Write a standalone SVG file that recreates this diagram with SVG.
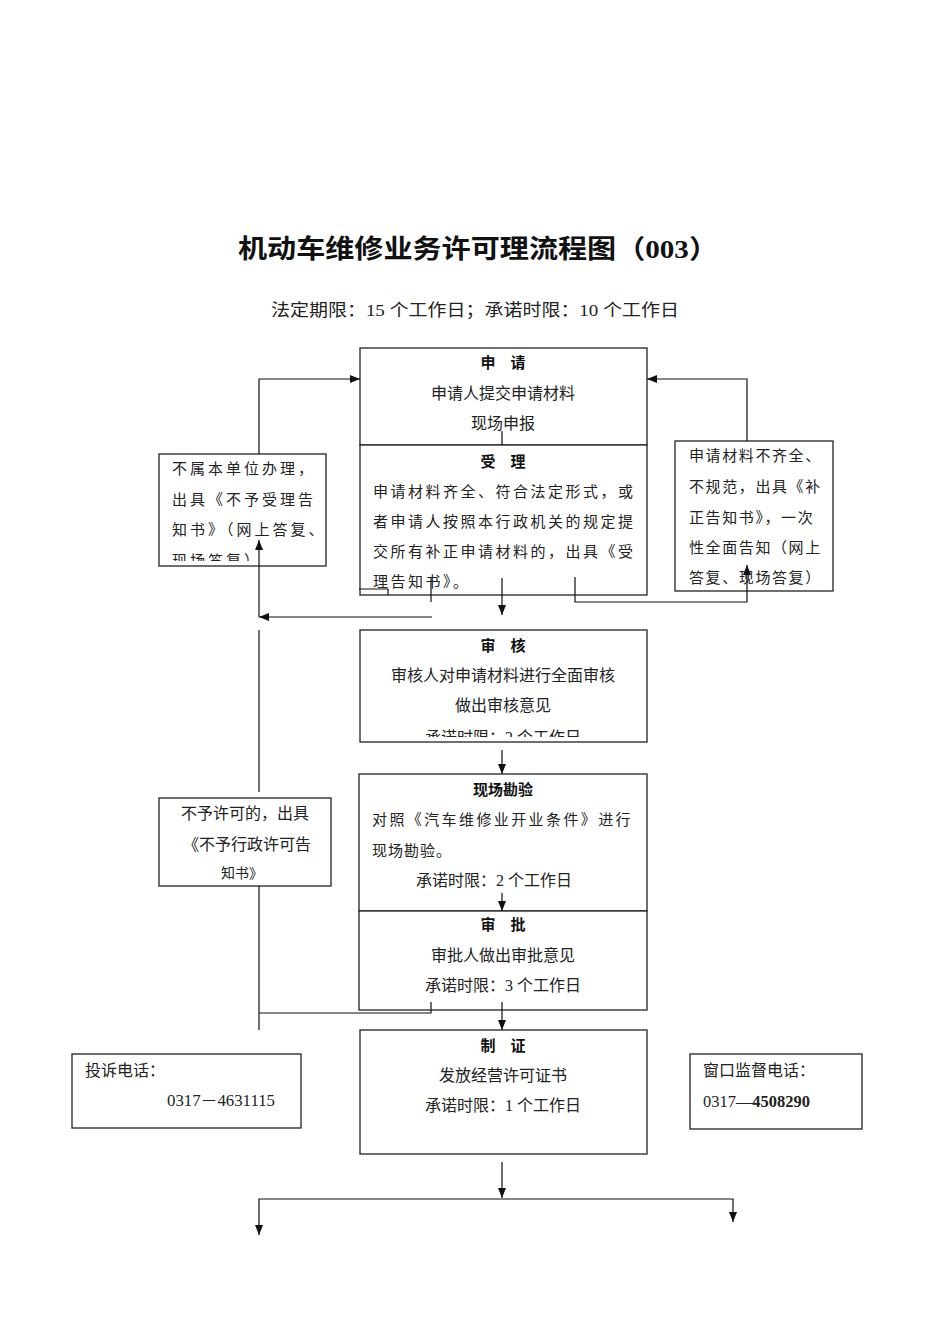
<svg xmlns="http://www.w3.org/2000/svg" width="950" height="1344" viewBox="0 0 950 1344">
<style>
.box{fill:#fff;stroke:#222;stroke-width:1.3}
.ln{fill:none;stroke:#111;stroke-width:1.2}
.t{font-family:"Liberation Serif","Noto Sans CJK SC",serif;font-size:16px;fill:#222}
.c{text-anchor:middle}
.b{font-family:"Noto Sans CJK SC",sans-serif;font-weight:bold;font-size:15px;fill:#111;text-anchor:middle}
.ls{font-size:15px;letter-spacing:2.5px}
.rs{font-size:15px;letter-spacing:1.6px}
</style>
<defs>
<marker id="ah" markerWidth="10" markerHeight="8" refX="10" refY="4" orient="auto" markerUnits="userSpaceOnUse">
<path d="M0,0 L10,4 L0,8 Z" fill="#111"/>
</marker>
<clipPath id="clipL"><rect x="159" y="454" width="167" height="107"/></clipPath>
<clipPath id="clipS"><rect x="360" y="630" width="287" height="107"/></clipPath>
</defs>
<rect width="950" height="1344" fill="#fff"/>

<g id="title">
<text x="238" y="258" textLength="480" lengthAdjust="spacingAndGlyphs" style="font-family:'Noto Sans CJK SC',sans-serif;font-weight:bold;font-size:26px;fill:#111">机动车维修业务许可理流程图（<tspan style="font-family:'Liberation Serif',serif">003</tspan>）</text>
<text x="271" y="316" textLength="408" lengthAdjust="spacingAndGlyphs" class="t" style="font-size:17px">法定期限：15 个工作日；承诺时限：10 个工作日</text>
</g>

<g id="node-shenqing">
<rect class="box" x="360" y="348" width="287" height="97"/>
<text class="b" x="503" y="368">申　请</text>
<text class="t c" x="503" y="399">申请人提交申请材料</text>
<text class="t c" x="503" y="429">现场申报</text>
</g>

<g id="node-shouli">
<rect class="box" x="360" y="445" width="287" height="150"/>
<text class="b" x="503" y="467">受　理</text>
<text class="t ls" x="373" y="497">申请材料齐全、符合法定形式，或</text>
<text class="t ls" x="373" y="527">者申请人按照本行政机关的规定提</text>
<text class="t ls" x="373" y="557">交所有补正申请材料的，出具《受</text>
<text class="t ls" x="373" y="587">理告知书》。</text>
</g>

<g id="node-bushu">
<rect class="box" x="159" y="454" width="167" height="112"/>
<g clip-path="url(#clipL)">
<text class="t ls" x="172" y="474" style="letter-spacing:3px">不属本单位办理，</text>
<text class="t ls" x="172" y="505" style="letter-spacing:3px">出具《不予受理告</text>
<text class="t ls" x="172" y="535" style="letter-spacing:3px">知书》（网上答复、</text>
<text class="t ls" x="172" y="566" style="letter-spacing:3px">现场答复）</text>
</g>
</g>

<g id="node-buqi">
<rect class="box" x="675" y="441" width="158" height="150"/>
<text class="t rs" x="689" y="461">申请材料不齐全、</text>
<text class="t rs" x="689" y="492">不规范，出具《补</text>
<text class="t rs" x="689" y="523">正告知书》，一次</text>
<text class="t rs" x="689" y="553">性全面告知（网上</text>
<text class="t rs" x="689" y="583">答复、现场答复）</text>
</g>

<g id="node-shenhe">
<rect class="box" x="360" y="630" width="287" height="112"/>
<text class="b" x="503" y="651">审　核</text>
<text class="t c" x="503" y="681">审核人对申请材料进行全面审核</text>
<text class="t c" x="503" y="711">做出审核意见</text>
<g clip-path="url(#clipS)">
<text class="t c" x="503" y="743">承诺时限：2 个工作日</text>
</g>
</g>

<g id="node-kanyan">
<rect class="box" x="359" y="774" width="288" height="137"/>
<text class="b" x="503" y="795">现场勘验</text>
<text class="t" x="372" y="825" style="font-size:15px;letter-spacing:2.4px">对照《汽车维修业开业条件》进行</text>
<text class="t" x="372" y="856" style="font-size:15px;letter-spacing:1px">现场勘验。</text>
<text class="t c" x="494" y="886">承诺时限：2 个工作日</text>
</g>

<g id="node-shenpi">
<rect class="box" x="359" y="911" width="288" height="99"/>
<text class="b" x="503" y="930">审　批</text>
<text class="t c" x="503" y="961">审批人做出审批意见</text>
<text class="t c" x="503" y="991">承诺时限：3 个工作日</text>
</g>

<g id="node-buyu">
<rect class="box" x="159" y="798" width="172" height="88"/>
<text class="t c" x="245" y="819">不予许可的，出具</text>
<text class="t c" x="247" y="850">《不予行政许可告</text>
<text class="t c" x="242" y="878" style="font-size:14px">知书》</text>
</g>

<g id="node-zhizheng">
<rect class="box" x="360" y="1030" width="287" height="124"/>
<text class="b" x="503" y="1051">制　证</text>
<text class="t c" x="503" y="1081">发放经营许可证书</text>
<text class="t c" x="503" y="1111">承诺时限：1 个工作日</text>
</g>

<g id="node-tousu">
<rect class="box" x="72" y="1054" width="229" height="74"/>
<text class="t" x="85" y="1076">投诉电话：</text>
<text class="t" x="167" y="1106" textLength="108" lengthAdjust="spacingAndGlyphs" style="font-size:16px">0317－4631115</text>
</g>

<g id="node-chuangkou">
<rect class="box" x="690" y="1054" width="172" height="75"/>
<text class="t" x="703" y="1076">窗口监督电话：</text>
<text class="t" x="703" y="1107" textLength="107" lengthAdjust="spacingAndGlyphs" style="font-size:16px">0317—<tspan font-weight="bold">4508290</tspan></text>
</g>

<g id="connectors">
<polyline class="ln" points="259,454 259,379 360,379" marker-end="url(#ah)"/>
<polyline class="ln" points="747,441 747,379 647,379" marker-end="url(#ah)"/>
<line class="ln" x1="502" y1="431" x2="502" y2="445"/>
<line class="ln" x1="502" y1="578" x2="502" y2="615" marker-end="url(#ah)"/>
<polyline class="ln" points="575,577 575,602 747,602 747,565" marker-end="url(#ah)"/>
<polyline class="ln" points="359,589 388,589 388,595"/>
<line class="ln" x1="431" y1="578" x2="431" y2="602"/>
<line class="ln" x1="432" y1="617" x2="259" y2="617" marker-end="url(#ah)"/>
<line class="ln" x1="259" y1="617" x2="259" y2="540" marker-end="url(#ah)"/>
<line class="ln" x1="259" y1="630" x2="259" y2="792"/>
<line class="ln" x1="502" y1="750" x2="502" y2="774" marker-end="url(#ah)"/>
<line class="ln" x1="502" y1="893" x2="502" y2="911" marker-end="url(#ah)"/>
<line class="ln" x1="259" y1="886" x2="259" y2="1030"/>
<polyline class="ln" points="259,1013 431,1013 431,1002"/>
<line class="ln" x1="502" y1="1002" x2="502" y2="1030" marker-end="url(#ah)"/>
<line class="ln" x1="502" y1="1162" x2="502" y2="1198" marker-end="url(#ah)"/>
<polyline class="ln" points="259,1235 259,1199 733,1199 733,1222"/>
<path d="M255,1225 L263,1225 L259,1235 Z" fill="#111"/>
<path d="M729,1212 L737,1212 L733,1222 Z" fill="#111"/>
</g>
</svg>
